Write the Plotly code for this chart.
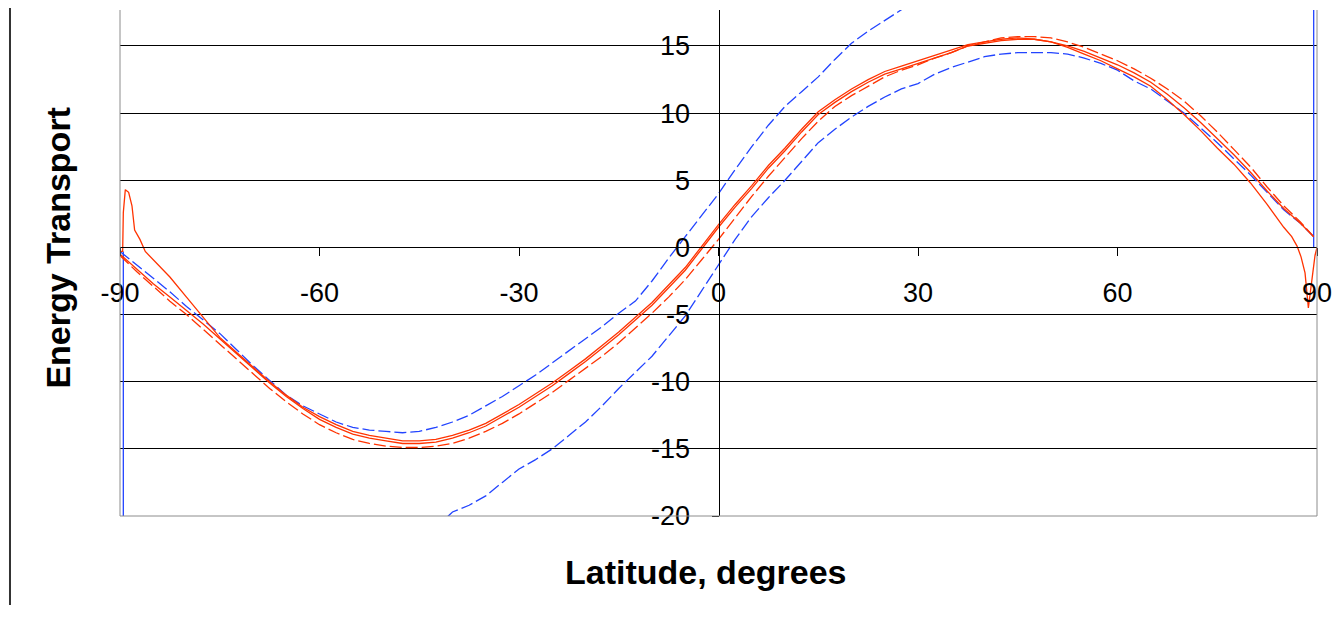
import plotly.graph_objects as go

# ---------------- data ----------------
lat_grid = [-90, -87.5, -85, -82.5, -80, -77.5, -75, -72.5, -70, -67.5, -65, -62.5,
            -60, -57.5, -55, -52.5, -50, -47.5, -45, -42.5, -40, -37.5, -35, -32.5,
            -30, -27.5, -25, -22.5, -20, -17.5, -15, -12.5, -10, -7.5, -5, -2.5,
            0, 2.5, 5, 7.5, 10, 12.5, 15, 17.5, 20, 22.5, 25, 27.5,
            30, 32.5, 35, 37.5, 40, 42.5, 45, 47.5, 50, 52.5, 55, 57.5,
            60, 62.5, 65, 67.5, 70, 72.5, 75, 77.5, 80, 82.5, 85, 87.5, 89.5]

# red solid (main)
red_solid = [-0.5, -1.6, -2.7, -3.7, -4.7, -5.7, -6.8, -7.9, -9.0, -10.1, -11.1, -12.0,
             -12.8, -13.4, -13.9, -14.2, -14.4, -14.6, -14.6, -14.5, -14.2, -13.8, -13.3, -12.6,
             -11.9, -11.1, -10.3, -9.4, -8.5, -7.5, -6.5, -5.4, -4.3, -3.0, -1.7, -0.1,
             1.5, 3.0, 4.4, 5.9, 7.2, 8.6, 9.9, 10.8, 11.6, 12.3, 12.9, 13.3,
             13.7, 14.1, 14.5, 15.0, 15.2, 15.4, 15.5, 15.5, 15.3, 15.0, 14.6, 14.1,
             13.6, 13.0, 12.3, 11.4, 10.4, 9.3, 8.1, 6.9, 5.6, 4.2, 2.9, 1.8, 0.8]

# red dashed
red_dashed = [-0.6, -1.8, -2.9, -4.0, -5.0, -6.1, -7.2, -8.3, -9.4, -10.5, -11.5, -12.4,
              -13.2, -13.8, -14.3, -14.6, -14.8, -14.9, -14.9, -14.8, -14.6, -14.2, -13.7, -13.1,
              -12.4, -11.6, -10.8, -9.9, -9.0, -8.1, -7.1, -6.0, -4.9, -3.7, -2.4, -0.9,
              0.6, 2.2, 3.8, 5.3, 6.7, 8.1, 9.4, 10.5, 11.3, 12.0, 12.7, 13.2,
              13.6, 14.1, 14.5, 15.0, 15.3, 15.6, 15.7, 15.7, 15.6, 15.3, 14.9, 14.4,
              13.9, 13.3, 12.6, 11.8, 10.9, 9.8, 8.6, 7.3, 6.0, 4.5, 3.1, 1.9, 0.8]

# red solid with polar features
red_polar_lat = [-90, -89.6, -89.5, -89.2, -88.7, -88.2, -87.8, -87.0, -86.2, -82.5, -80, -77.5, -75,
                 -72.5, -70, -67.5, -65, -62.5, -60, -57.5, -55, -52.5, -50, -47.5, -45,
                 -42.5, -40, -37.5, -35, -32.5, -30, -27.5, -25, -22.5, -20, -17.5, -15,
                 -12.5, -10, -7.5, -5, -2.5, 0, 2.5, 5, 7.5, 10, 12.5, 15, 17.5, 20, 22.5,
                 25, 27.5, 30, 32.5, 35, 37.5, 40, 42.5, 45, 47.5, 50, 52.5, 55, 57.5, 60,
                 62.5, 65, 67.5, 70, 72.5, 75, 77.5, 80, 82.5, 85, 86.2, 87.0, 87.6, 88.2,
                 88.7, 89.7, 90]
red_polar = [-0.3, -0.3, 2.6, 4.3, 4.1, 3.1, 1.3, 0.6, -0.3, -2.2, -3.7, -5.2, -6.7,
             -7.8, -8.9, -10.0, -11.0, -11.9, -12.6, -13.2, -13.7, -14.0, -14.2, -14.4, -14.4,
             -14.3, -14.0, -13.6, -13.1, -12.4, -11.7, -10.9, -10.1, -9.2, -8.3, -7.3, -6.3,
             -5.2, -4.1, -2.8, -1.5, 0.1, 1.7, 3.2, 4.6, 6.1, 7.4, 8.8, 10.1, 11.0, 11.8, 12.5,
             13.1, 13.5, 13.9, 14.3, 14.7, 15.1, 15.3, 15.5, 15.6, 15.5, 15.3, 14.9, 14.4, 13.9, 13.3,
             12.7, 12.0, 11.0, 9.9, 8.7, 7.4, 6.2, 4.8, 3.2, 1.5, 0.8, 0.1, -0.7, -1.9,
             -4.5, -0.6, 0.0]

# blue dashed, integrated from the south pole (ends with a drop back to zero at the pole)
blue_south_lat = lat_grid[:-1] + [89.5, 89.5]
blue_south = [-0.3, -1.3, -2.3, -3.3, -4.4, -5.4, -6.4, -7.6, -8.8, -9.9, -11.0, -11.8,
              -12.4, -13.0, -13.4, -13.6, -13.7, -13.8, -13.7, -13.4, -13.0, -12.5, -11.8, -11.1,
              -10.3, -9.5, -8.6, -7.7, -6.8, -5.9, -4.9, -4.0, -2.5, -0.8, 0.8, 2.4,
              4.0, 5.8, 7.5, 9.1, 10.5, 11.6, 12.7, 14.0, 15.2, 16.1, 16.9, 17.7,
              18.4, 19.1, 19.7, 20.3, 20.9, 21.4, 21.9, 22.4, 22.8, 23.2, 23.5, 23.8,
              24.1, 24.4, 24.6, 24.8, 25.0, 25.2, 25.3, 25.4, 25.5, 25.5, 25.6, 25.6,
              25.6, 0.0]

# blue dashed, integrated from the north pole (starts with a drop from zero at the pole)
blue_north_lat = [-89.5, -89.5] + lat_grid[1:]
blue_north = [-0.3, -32.0, -31.5, -30.5, -30.2, -30.0, -29.8, -29.5, -29.2, -28.8, -28.3, -27.8, -27.2,
              -26.6, -25.9, -25.2, -24.5, -23.7, -22.9, -22.0, -20.9, -19.7, -19.2, -18.5, -17.5,
              -16.5, -15.8, -15.0, -14.0, -13.0, -11.8, -10.5, -9.3, -8.1, -6.6, -5.1, -3.2,
              -1.3, 0.6, 2.3, 3.7, 5.0, 6.4, 7.8, 8.8, 9.7, 10.5, 11.2, 11.8,
              12.2, 12.9, 13.4, 13.8, 14.2, 14.4, 14.5, 14.5, 14.5, 14.4, 14.1, 13.7,
              13.2, 12.4, 11.8, 10.9, 10.0, 8.9, 7.8, 6.6, 5.4, 4.1, 2.8, 1.8, 0.8]

x_ticks = [-90, -60, -30, 0, 30, 60, 90]
x_tick_text = ["-90", "-60", "-30", "0", "30", "60", "90"]
y_ticks = [-20, -15, -10, -5, 0, 5, 10, 15]
y_tick_text = ["-20", "-15", "-10", "-5", "0", "5", "10", "15"]
y_range = [-20, 17.68]
x_title = "Latitude, degrees"
y_title = "Energy Transport"

RED = "#FF3300"
BLUE = "#2244FF"
FONT = "Liberation Sans, Arial, sans-serif"
DASH = "12px,4px"

fig = go.Figure()
# polar drops of the blue curves drawn solid, the rest dashed
fig.add_trace(go.Scatter(x=blue_south_lat[:-2], y=blue_south[:-2], mode="lines",
                         line=dict(color=BLUE, width=1.3, dash=DASH)))
fig.add_trace(go.Scatter(x=blue_south_lat[-2:], y=blue_south[-2:], mode="lines",
                         line=dict(color=BLUE, width=1.3)))
fig.add_trace(go.Scatter(x=blue_north_lat[:2], y=blue_north[:2], mode="lines",
                         line=dict(color=BLUE, width=1.3)))
fig.add_trace(go.Scatter(x=blue_north_lat[1:], y=blue_north[1:], mode="lines",
                         line=dict(color=BLUE, width=1.3, dash=DASH)))
fig.add_trace(go.Scatter(x=lat_grid, y=red_dashed, mode="lines",
                         line=dict(color=RED, width=1.3, dash=DASH)))
fig.add_trace(go.Scatter(x=lat_grid, y=red_solid, mode="lines",
                         line=dict(color=RED, width=1.3)))
fig.add_trace(go.Scatter(x=red_polar_lat, y=red_polar, mode="lines",
                         line=dict(color=RED, width=1.3)))

zero_pos = (0 - y_range[0]) / (y_range[1] - y_range[0])

fig.update_layout(
    width=1342, height=619,
    margin=dict(l=112, r=33, t=2, b=111, autoexpand=False),
    paper_bgcolor="white", plot_bgcolor="white",
    showlegend=False,
    font=dict(family=FONT, color="black"),
    xaxis=dict(range=[-90, 90], tickvals=x_ticks, ticktext=x_tick_text,
               ticks="outside", ticklen=8,
               tickcolor="black", showline=True, linecolor="black", linewidth=1,
               anchor="free", position=zero_pos, showgrid=False, zeroline=False,
               tickfont=dict(size=27, family=FONT), ticklabelstandoff=13),
    yaxis=dict(range=y_range, tickvals=y_ticks, ticktext=y_tick_text,
               ticks="outside", ticklen=7,
               tickcolor="black", showline=True, linecolor="black", linewidth=1,
               anchor="free", position=0.5, side="left",
               showgrid=True, gridcolor="black", gridwidth=1, zeroline=False,
               tickfont=dict(size=27, family=FONT), ticklabelstandoff=16),
    shapes=[
        dict(type="line", xref="paper", yref="paper", x0=0, x1=0, y0=0, y1=1,
             line=dict(color="#8c8c8c", width=1), layer="above"),
        dict(type="line", xref="paper", yref="paper", x0=1, x1=1, y0=0, y1=1,
             line=dict(color="#8c8c8c", width=1), layer="above"),
        dict(type="line", xref="paper", yref="paper", x0=0, x1=1, y0=0, y1=0,
             line=dict(color="#8c8c8c", width=1), layer="above"),
        dict(type="line", xref="paper", yref="paper", x0=-0.0919, x1=-0.0919,
             y0=1.02, y1=-0.176, line=dict(color="#333333", width=2)),
    ],
    annotations=[
        dict(text=x_title, xref="paper", yref="paper", x=0.4896, y=-0.1107,
             xanchor="center", yanchor="middle", showarrow=False,
             font=dict(size=34, family=FONT, weight="bold")),
        dict(text=y_title, xref="paper", yref="paper", x=-0.052, y=0.53,
             xanchor="center", yanchor="middle", textangle=-90, showarrow=False,
             font=dict(size=34, family=FONT, weight="bold")),
    ],
)

fig.write_html("out.html")
